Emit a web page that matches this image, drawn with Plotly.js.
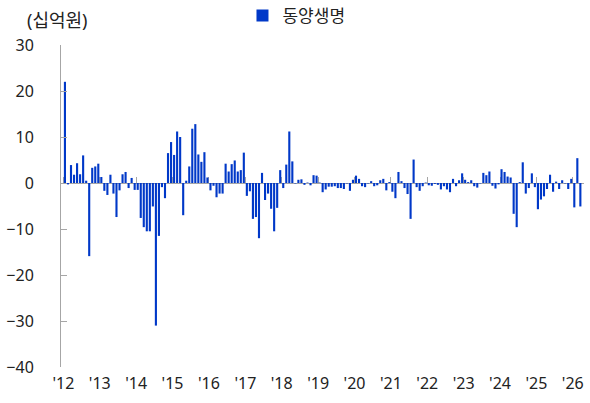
<!DOCTYPE html>
<html>
<head>
<meta charset="utf-8">
<script src="https://cdn.plot.ly/plotly-3.0.1.min.js"></script>
<style>
  html, body { margin: 0; padding: 0; background: #fff; }
  #chart { width: 590px; height: 403px; }
</style>
</head>
<body>
<div id="chart"></div>
<script>
// 동양생명 monthly values (십억원), Jan 2012 .. Mar 2026
const y2012 = [22.0, -0.3, 3.9, 1.8, 4.3, 1.9, 6.0, 0.5, -15.9, 3.3, 3.6, 4.2];
const y2013 = [1.3, -1.7, -2.6, 1.8, -2.3, -7.4, -1.6, 1.9, 2.4, -1.1, 1.1, -1.5];
const y2014 = [-1.5, -7.6, -9.6, -10.5, -10.5, -5.1, -31.0, -11.5, -0.9, -3.3, 6.5, 8.9];
const y2015 = [6.1, 11.2, 10.0, -7.0, 0.5, 3.6, 11.8, 12.8, 6.2, 4.6, 6.7, 1.2];
const y2016 = [-1.6, -0.6, -3.1, -2.3, -2.3, 4.2, 2.5, 4.1, 4.9, 2.5, 2.8, 6.6];
const y2017 = [-2.8, -1.8, -7.8, -7.4, -12.0, 2.2, -3.7, -2.3, -5.6, -10.5, -5.4, 2.8];
const y2018 = [-1.1, 4.0, 11.2, 4.7, -0.1, 0.7, 0.8, -0.4, 0.1, -0.5, 1.7, 1.6];
const y2019 = [0.1, -2.0, -1.4, -0.8, -0.8, -0.7, -1.1, -1.1, -1.3, -0.1, -1.7, 0.7];
const y2020 = [1.6, 0.9, -0.7, -0.9, -0.1, 0.4, -0.7, -0.5, 0.6, 0.9, -1.6, 0.2];
const y2021 = [-1.9, -3.3, 2.4, 0.4, -1.1, -2.4, -7.8, 5.1, -0.9, -1.7, -0.7, 0.1];
const y2022 = [-0.5, -0.6, -0.2, -0.4, -1.4, -0.7, -1.4, -2.0, 0.9, -0.7, 0.6, 2.1];
const y2023 = [0.7, 0.2, 0.6, -0.7, -1.0, -0.1, 2.2, 1.7, 2.5, -0.6, -1.2, -0.3];
const y2024 = [3.0, 2.4, 1.4, 1.2, -6.7, -9.6, 0.2, 4.5, -2.3, -1.1, 2.1, -0.9];
const y2025 = [-5.7, -3.6, -2.9, -1.3, 1.8, -1.9, 0.3, -1.3, 0.6, -0.1, -1.3, 0.9];
const y2026 = [-5.3, 5.4, -5.1];

const yearLabels = ["'12", "'13", "'14", "'15", "'16", "'17", "'18", "'19", "'20",
                    "'21", "'22", "'23", "'24", "'25", "'26"];

const values = [y2012, y2013, y2014, y2015, y2016, y2017, y2018, y2019, y2020,
                y2021, y2022, y2023, y2024, y2025, y2026].flat();
const monthIdx = values.map((v, i) => i);
// year labels sit on the boundary before each January
const tickPos = yearLabels.map((t, k) => k * 12 - 0.5);

const FONT = "Noto Sans, Noto Sans CJK KR, sans-serif";
const AXIS = "#a6a6a6";
const xRange = [-1.3, monthIdx.length + 0.2];

const bars = {
    x: monthIdx,
    y: values,
    type: "bar",
    name: "동양생명",
    marker: { color: "#0038c8" },
    hoverinfo: "y"
};

// empty trace so the zero-line axis (x2) gets drawn
const zeroAxis = {
    x: [], y: [], type: "scatter", mode: "lines",
    xaxis: "x2", yaxis: "y", showlegend: false, hoverinfo: "skip"
};

const layout = {
    width: 590,
    height: 403,
    margin: { l: 61, r: 6, t: 45, b: 36, autoexpand: false },
    paper_bgcolor: "#fff",
    plot_bgcolor: "#fff",
    font: { family: FONT, size: 16, color: "#222" },
    bargap: 0.3,
    showlegend: true,
    legend: {
        orientation: "h",
        x: 0.347, xanchor: "left",
        y: 1.09, yanchor: "middle",
        font: { size: 17, color: "#222" },
        itemwidth: 30
    },
    xaxis: {
        range: xRange,
        tickvals: tickPos,
        ticktext: yearLabels,
        showline: false,
        showgrid: false,
        zeroline: false,
        ticks: "",
        ticklabelstandoff: 5,
        fixedrange: true
    },
    xaxis2: {
        overlaying: "x",
        anchor: "free",
        position: 40 / 70,
        range: xRange,
        tickvals: tickPos,
        showticklabels: false,
        showline: true,
        linecolor: AXIS,
        linewidth: 1,
        ticks: "inside",
        ticklen: 6,
        tickcolor: AXIS,
        showgrid: false,
        zeroline: false,
        layer: "below traces"
    },
    yaxis: {
        range: [-40, 30],
        dtick: 10,
        showline: true,
        linecolor: AXIS,
        linewidth: 1,
        ticks: "inside",
        ticklen: 6,
        tickcolor: AXIS,
        showgrid: false,
        zeroline: false,
        ticklabelstandoff: 23,
        fixedrange: true
    },
    annotations: [{
        text: "(십억원)",
        xref: "paper", yref: "paper",
        x: -0.068, xanchor: "left",
        y: 1.078, yanchor: "middle",
        showarrow: false,
        font: { size: 18, color: "#222" }
    }]
};

Plotly.newPlot("chart", [bars, zeroAxis], layout, { displayModeBar: false, staticPlot: true });
</script>
</body>
</html>
